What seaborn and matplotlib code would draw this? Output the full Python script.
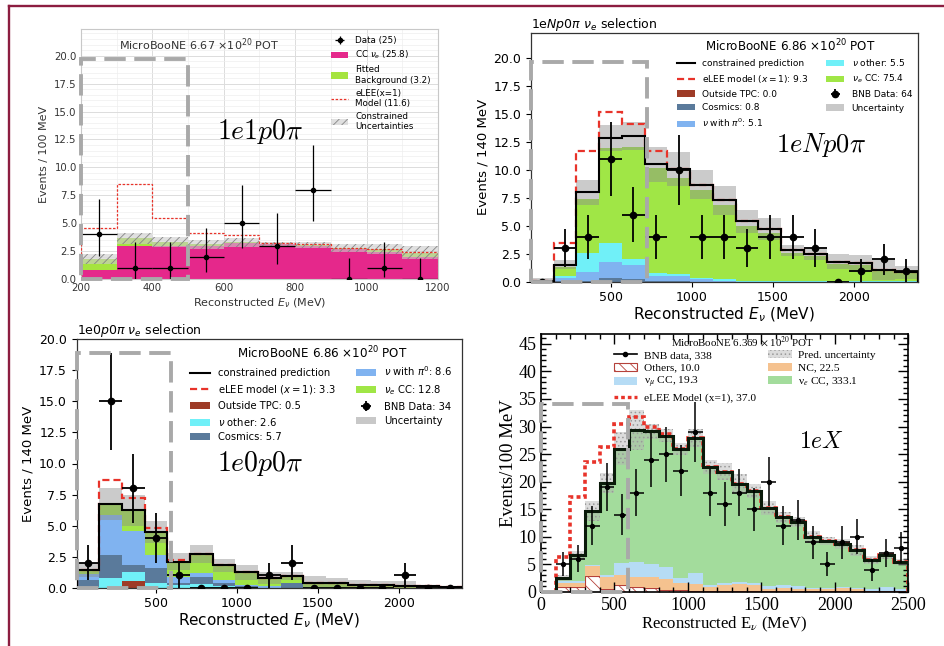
import numpy as np
import pandas as pd
import matplotlib
matplotlib.use("Agg")
import matplotlib.pyplot as plt
import seaborn as sns
from matplotlib.patches import Patch, Rectangle
from matplotlib.lines import Line2D
from matplotlib.ticker import MultipleLocator, AutoMinorLocator, FormatStrFormatter

# ---------------- Panel 1 : 1e1p0pi ----------------
p1_edges = [200, 300, 400, 500, 600, 700, 800, 900, 1000, 1100, 1200]
p1_cc_nue = [0.8, 2.95, 2.95, 2.95, 3.25, 3.1, 2.95, 2.65, 2.45, 2.0]
p1_fitted_bkg = [0.95, 0.7, 0.35, 0.15, 0.05, 0.05, 0.1, 0.1, 0.2, 0.35]
p1_unc = [0.45, 0.5, 0.45, 0.4, 0.4, 0.2, 0.3, 0.35, 0.45, 0.6]
p1_elee = [4.6, 8.5, 5.45, 4.1, 3.9, 3.2, 3.1, 2.8, 2.7, 2.4]
p1_data = [4, 1, 1, 2, 5, 3, 8, 0, 1, 0]
p1_err_lo = [1.95, 1.0, 1.0, 1.37, 2.2, 1.7, 2.8, 0, 0.83, 0]
p1_err_hi = [3.2, 2.3, 2.3, 2.6, 3.4, 2.9, 4.0, 1.87, 2.3, 1.87]
p1_labels = ["Data (25)", r"CC $\nu_e$ (25.8)", "Fitted\nBackground (3.2)",
             "eLEE(x=1)\nModel (11.6)", "Constrained\nUncertainties"]

# ---------------- Panel 2 : 1eNp0pi ----------------
p2_edges = [10, 150, 290, 430, 570, 710, 850, 990, 1130, 1270, 1410, 1550,
            1690, 1830, 1970, 2110, 2250, 2390]
p2_outside = [0, 0, 0, 0, 0, 0, 0, 0, 0, 0, 0, 0, 0, 0, 0, 0, 0]
p2_cosmics = [0, 0.05, 0.1, 0.3, 0.2, 0.05, 0.1, 0, 0, 0, 0, 0, 0, 0, 0, 0, 0]
p2_pi0 = [0, 0.3, 0.8, 1.45, 1.3, 0.45, 0.4, 0.2, 0.1, 0, 0, 0, 0, 0, 0, 0, 0]
p2_other = [0.05, 0.2, 1.7, 1.75, 0.5, 0.3, 0.2, 0.15, 0.15, 0.1, 0.1, 0.1,
            0.05, 0.05, 0.05, 0.05, 0.05]
p2_nue = [0.05, 0.75, 4.8, 8.5, 10.1, 9.4, 8.6, 7.85, 6.65, 4.9, 4.3, 2.5,
          2.25, 1.55, 1.45, 0.9, 0.75]
p2_constrained = [0.1, 1.5, 8.0, 12.85, 13.05, 10.5, 10.1, 8.7, 7.3, 5.4, 4.7,
                  2.8, 2.5, 1.8, 1.65, 1.05, 0.85]
p2_unc = [0.25, 0.4, 1.15, 1.15, 1.25, 1.6, 1.5, 1.3, 1.3, 1.0, 1.0, 0.5, 0.6,
          0.7, 0.75, 0.9, 0.6]
p2_elee = [0.1, 3.5, 11.7, 15.2, 14.1, 11.7, 10.1, 8.7, 7.3, 5.4, 4.7, 2.8,
           2.5, 1.8, 1.65, 1.05, 0.85]
p2_data = [0, 3, 4, 11, 6, 4, 10, 4, 4, 3, 4, 4, 3, 0, 1, 2, 1]
p2_err = [0, 1.7, 2, 3.3, 2.45, 2, 3.15, 2, 2, 1.7, 2, 2, 1.7, 0, 1, 1.4, 1]
p2_labels = ["constrained prediction", r"eLEE model ($x = 1$): 9.3",
             "Outside TPC: 0.0", "Cosmics: 0.8", r"$\nu$ with $\pi^0$: 5.1",
             r"$\nu$ other: 5.5", r"$\nu_e$ CC: 75.4", "BNB Data: 64", "Uncertainty"]

# ---------------- Panel 3 : 1e0p0pi ----------------
p3_edges = p2_edges
p3_outside = [0, 0, 0.5, 0, 0, 0, 0, 0, 0, 0, 0, 0, 0, 0, 0, 0, 0]
p3_other = [0.05, 0.75, 0.8, 0.4, 0.2, 0.3, 0.1, 0.05, 0, 0, 0.05, 0, 0, 0, 0, 0, 0]
p3_cosmics = [0.6, 1.9, 0.5, 1.15, 0.2, 0.6, 0.3, 0.1, 0, 0.4, 0, 0, 0, 0, 0, 0, 0]
p3_pi0 = [0.45, 3.2, 2.8, 1.1, 0.5, 0.3, 0.2, 0.1, 0.1, 0, 0, 0, 0, 0, 0, 0, 0]
p3_nue = [0.3, 0.9, 1.65, 1.85, 1.2, 1.5, 1.2, 1.0, 0.7, 0.55, 0.35, 0.35,
          0.25, 0.2, 0.1, 0.1, 0.05]
p3_constrained = [1.4, 6.75, 6.25, 4.5, 2.1, 2.7, 1.8, 1.25, 0.8, 0.95, 0.4,
                  0.35, 0.25, 0.2, 0.1, 0.1, 0.05]
p3_unc = [0.55, 1.3, 1.25, 0.9, 0.7, 0.7, 0.55, 0.6, 0.5, 0.35, 0.55, 0.45,
          0.35, 0.3, 0.4, 0.1, 0.05]
p3_elee = [1.4, 8.65, 7.25, 4.8, 2.2, 2.7, 1.8, 1.25, 0.8, 0.95, 0.4, 0.35,
           0.25, 0.2, 0.1, 0.1, 0.05]
p3_data = [2, 15, 8, 4, 1, 0, 0, 0, 1, 2, 0, 0, 0, 0, 1, 0, 0]
p3_err = [1.4, 3.9, 2.8, 2, 1, 0, 0, 0, 1, 1.4, 0, 0, 0, 0, 1, 0, 0]
p3_labels = ["constrained prediction", r"eLEE model ($x = 1$): 3.3",
             "Outside TPC: 0.5", r"$\nu$ other: 2.6", "Cosmics: 5.7",
             r"$\nu$ with $\pi^0$: 8.6", r"$\nu_e$ CC: 12.8", "BNB Data: 34", "Uncertainty"]

# ---------------- Panel 4 : 1eX ----------------
p4_edges = [100, 200, 300, 400, 500, 600, 700, 800, 900, 1000, 1100, 1200, 1300,
            1400, 1500, 1600, 1700, 1800, 1900, 2000, 2100, 2200, 2300, 2400, 2500]
p4_others = [0.8, 0.8, 2.8, 0.5, 1.2, 0.8, 0.6, 0.3, 0.3, 0.2, 0.1, 0.1, 0.1,
             0.1, 0.1, 0.1, 0.1, 0.1, 0.1, 0.1, 0.1, 0.1, 0.1, 0.1]
p4_nc = [0.8, 0.8, 1.8, 2.2, 1.9, 1.9, 2.0, 2.0, 1.2, 1.2, 0.7, 1.1, 1.3, 1.2,
         0.4, 0.5, 0.4, 0.3, 0.3, 0.6, 0.3, 0.1, 0.1, 0.1]
p4_numu = [0.3, 0.3, 0.3, 0.3, 2.2, 2.7, 2.4, 2.1, 0.9, 2.0, 0.5, 0.4, 0.4, 0.2,
           0.5, 0.7, 0.5, 0.3, 0.2, 0.2, 0.2, 0.3, 0.7, 0.2]
p4_nue = [0.6, 4.7, 9.8, 16.8, 20.7, 24.0, 24.1, 23.9, 23.5, 24.5, 21.4, 20.2,
          17.7, 16.8, 14.2, 12.2, 11.6, 9.2, 8.6, 7.7, 6.9, 5.3, 5.7, 5.0]
p4_total = [2.5, 6.6, 14.7, 19.8, 26.0, 29.4, 29.1, 28.3, 25.9, 27.9, 22.7, 21.8,
            19.5, 18.3, 15.2, 13.5, 12.6, 9.9, 9.2, 8.6, 7.5, 5.8, 6.6, 5.4]
p4_unc = [0.5, 0.8, 1.8, 1.8, 3.0, 3.6, 1.4, 1.2, 1.1, 1.6, 1.3, 1.5, 1.8, 1.2,
          1.3, 1.0, 0.9, 1.1, 0.8, 0.9, 1.0, 0.7, 0.7, 0.6]
p4_elee = [6.3, 17.2, 23.5, 26.3, 30.5, 31.8, 30.0, 28.6, 26.0, 28.0, 22.7, 21.8,
           19.5, 18.3, 15.2, 13.5, 12.6, 9.9, 9.2, 8.6, 7.5, 5.8, 6.6, 5.4]
p4_data = [5, 6, 12, 19, 14, 18, 24, 25, 22, 29, 18, 16, 18, 15, 20, 12, 13, 9,
           5, 9, 10, 4, 7, 8]
p4_err = [2.2, 2.4, 3.5, 4.4, 3.7, 4.2, 4.9, 5.0, 4.7, 5.4, 4.2, 4.0, 4.2, 3.9,
          4.5, 3.5, 3.6, 3.0, 2.2, 3.0, 3.2, 2.0, 2.6, 2.8]
p4_labels = ["BNB data, 338", "Others, 10.0", r"ν$_\mu$ CC, 19.3",
             "eLEE Model (x=1), 37.0", "Pred. uncertainty", "NC, 22.5", r"ν$_e$ CC, 333.1"]

# ---------------- colours ----------------
PINK, LGREEN = "#e5288b", "#a5e43f"
C_OUT, C_COS, C_PI0, C_OTH, C_NUE = "#9e3b27", "#5a7a9b", "#80b3f0", "#70f0f8", "#a0e646"
C4_NUE, C4_NC, C4_NUMU, C4_OTH = "#a3dc9c", "#f5c28f", "#b6dcf5", "#ffffff"
RED = "#e8332a"
DASH_GREY = "#a9a9a9"
OTH_EDGE = "#b5413a"

W, H = 945, 646
fig = plt.figure(figsize=(9.45, 6.46), dpi=100)
plt.rcParams["hatch.linewidth"] = 0.6


def axbox(l, t, r, b):
    return [l / W, 1 - b / H, (r - l) / W, (b - t) / H]


def stack(ax, edges, comps, names, colors):
    e = np.asarray(edges, float)
    centers = 0.5 * (e[:-1] + e[1:])
    rows = []
    for n, vals in zip(names, comps):
        for c, w in zip(centers, vals):
            rows.append((c, w, n))
    df = pd.DataFrame(rows, columns=["E", "w", "comp"])
    sns.histplot(data=df, x="E", weights="w", hue="comp", hue_order=names[::-1],
                 palette=dict(zip(names, colors)), bins=list(map(float, edges)),
                 multiple="stack", element="step", fill=True, alpha=1, linewidth=0,
                 legend=False, ax=ax)


def band(ax, edges, center, err, **kw):
    lo = np.asarray(center, float) - np.asarray(err, float)
    hi = np.asarray(center, float) + np.asarray(err, float)
    return ax.fill_between(edges, np.r_[lo, lo[-1]], np.r_[hi, hi[-1]], step="post", **kw)


def centers_of(edges):
    e = np.asarray(edges, float)
    return 0.5 * (e[:-1] + e[1:]), np.diff(e) / 2


def dashed_box(ax, x0, x1, top):
    ax.add_patch(Rectangle((x0, 0), x1 - x0, top, fill=False, ec=DASH_GREY, lw=2.8,
                           ls=(0, (5.5, 2.2)), clip_on=False, zorder=8))


# ======================= Panel 1 =======================
ax1 = fig.add_axes(axbox(81, 29, 438, 279))
stack(ax1, p1_edges, [p1_cc_nue, p1_fitted_bkg], ["ccnue", "fitted"], [PINK, LGREEN])
tot1 = np.add(p1_cc_nue, p1_fitted_bkg)
band(ax1, p1_edges, tot1, p1_unc, facecolor=(0.8, 0.8, 0.8, 0.6), edgecolor="#858585",
     hatch="////", lw=0, zorder=2)
ax1.stairs(p1_elee, p1_edges, color=RED, lw=0.9, ls=(0, (2, 1.3)), zorder=3)
c1, hw1 = centers_of(p1_edges)
eb1 = ax1.errorbar(c1, p1_data, xerr=hw1, yerr=[p1_err_lo, p1_err_hi], fmt="o", color="k",
                   ms=3, elinewidth=0.9, capsize=0, zorder=5)
ax1.set_xlim(200, 1200)
ax1.set_ylim(0, 22.4)
ax1.xaxis.set_major_locator(MultipleLocator(200))
ax1.yaxis.set_major_locator(MultipleLocator(2.5))
ax1.yaxis.set_major_formatter(FormatStrFormatter("%.1f"))
ax1.xaxis.set_minor_locator(AutoMinorLocator(2))
ax1.yaxis.set_minor_locator(AutoMinorLocator(5))
ax1.set_axisbelow(True)
ax1.grid(which="major", color="#dcdcdc", lw=0.7)
ax1.grid(which="minor", color="#eeeeee", lw=0.5)
ax1.tick_params(which="both", length=0, labelsize=7.3, labelcolor="#333333", pad=3)
for s in ax1.spines.values():
    s.set_color("#c8c8c8")
    s.set_linewidth(0.8)
ax1.set_xlabel(r"Reconstructed $E_\nu$ (MeV)", fontsize=8, color="#333333", labelpad=2)
ax1.set_ylabel("Events / 100 MeV", fontsize=8, color="#333333", labelpad=4)
ax1.text(0.33, 0.936, r"MicroBooNE 6.67 $\times10^{20}$ POT", transform=ax1.transAxes,
         ha="center", va="center", fontsize=8, color="#333333")
h1 = [eb1, Patch(fc=PINK), Patch(fc=LGREEN),
      Line2D([], [], color=RED, lw=0.9, ls=(0, (2, 1.3))),
      Patch(facecolor=(0.8, 0.8, 0.8, 0.6), edgecolor="#858585", hatch="////", lw=0)]
ax1.legend(h1, p1_labels, loc="upper right", fontsize=6.3, frameon=False,
           labelspacing=0.45, handletextpad=0.8, borderaxespad=0.4)
dashed_box(ax1, 200, 500, 19.7)

# ======================= Panels 2 & 3 =======================


def mb_panel(ax, edges, comps, names, colors, constrained, unc, elee, data, err,
             leg_entries_order, title, sel_title, ymax, title_xy):
    stack(ax, edges, comps, names, colors)
    band(ax, edges, constrained, unc, facecolor="#8c8c8c", alpha=0.45, lw=0, zorder=2)
    ax.stairs(elee, edges, color=RED, lw=1.6, ls=(0, (3.2, 1.8)), zorder=3)
    ax.stairs(constrained, edges, color="k", lw=1.5, zorder=4)
    c, hw = centers_of(edges)
    eb = ax.errorbar(c, data, xerr=hw, yerr=err, fmt="o", color="k", ms=4.5,
                     elinewidth=1.3, capsize=0, zorder=6)
    ax.set_xlim(edges[0], edges[-1])
    ax.set_ylim(0, ymax)
    ax.set_xticks([500, 1000, 1500, 2000])
    ax.yaxis.set_major_locator(MultipleLocator(2.5))
    ax.yaxis.set_major_formatter(FormatStrFormatter("%.1f"))
    ax.tick_params(labelsize=9, length=3.5, width=0.8)
    for s in ax.spines.values():
        s.set_linewidth(0.9)
        s.set_color("#333333")
    ax.set_xlabel(r"Reconstructed $E_\nu$ (MeV)", fontsize=11, labelpad=1)
    ax.set_ylabel("Events / 140 MeV", fontsize=9.5, labelpad=3)
    ax.set_title(sel_title, loc="left", fontsize=9, pad=3)
    ax.text(title_xy[0], title_xy[1], title, transform=ax.transAxes, ha="center",
            va="center", fontsize=8.6)
    handle_map = {
        "constrained": Line2D([], [], color="k", lw=1.5),
        "elee": Line2D([], [], color=RED, lw=1.6, ls=(0, (3.2, 1.8))),
        "data": eb,
        "unc": Patch(fc="#c8c8c8"),
    }
    for n, col in zip(names, colors):
        handle_map[n] = Patch(fc=col)
    return [handle_map[k] for k in leg_entries_order]


ax2 = fig.add_axes(axbox(531, 32.7, 917.7, 281.7))
names2 = ["outside", "cosmics", "pi0", "other", "nue"]
h2 = mb_panel(ax2, p2_edges, [p2_outside, p2_cosmics, p2_pi0, p2_other, p2_nue], names2,
              [C_OUT, C_COS, C_PI0, C_OTH, C_NUE], p2_constrained, p2_unc, p2_elee,
              p2_data, p2_err,
              ["constrained", "elee", "outside", "cosmics", "pi0", "other", "nue", "data", "unc"],
              r"MicroBooNE 6.86 $\times10^{20}$ POT", r"1e$Np$0$\pi$ $\nu_e$ selection",
              22.3, (0.671, 0.947))
ax2.legend(h2, p2_labels, ncol=2, loc="upper right", bbox_to_anchor=(0.995, 0.915),
           fontsize=6.5, frameon=False, borderaxespad=0, labelspacing=0.5,
           columnspacing=2.0, handletextpad=0.8)
dashed_box(ax2, 10, 725, 19.65)

ax3 = fig.add_axes(axbox(76.7, 339.3, 461.7, 587.7))
names3 = ["outside", "other", "cosmics", "pi0", "nue"]
h3 = mb_panel(ax3, p3_edges, [p3_outside, p3_other, p3_cosmics, p3_pi0, p3_nue], names3,
              [C_OUT, C_OTH, C_COS, C_PI0, C_NUE], p3_constrained, p3_unc, p3_elee,
              p3_data, p3_err,
              ["constrained", "elee", "outside", "other", "cosmics", "pi0", "nue", "data", "unc"],
              r"MicroBooNE 6.86 $\times10^{20}$ POT", r"1e0$p$0$\pi$ $\nu_e$ selection",
              20.0, (0.637, 0.944))
ax3.legend(h3, p3_labels, ncol=2, loc="upper right", bbox_to_anchor=(0.985, 0.915),
           fontsize=7.2, frameon=False, borderaxespad=0, labelspacing=0.48,
           columnspacing=2.0, handletextpad=0.8)
dashed_box(ax3, 10, 590, 18.9)

# ======================= Panel 4 =======================
SERIF = "Liberation Serif"
ax4 = fig.add_axes(axbox(541, 334, 908.3, 591.7))
names4 = ["others", "nc", "numu", "nue"]
stack(ax4, p4_edges, [p4_others, p4_nc, p4_numu, p4_nue], names4,
      [C4_OTH, C4_NC, C4_NUMU, C4_NUE])
for coll in ax4.collections:
    fc = coll.get_facecolor()
    if len(fc) and np.allclose(fc[0][:3], (1, 1, 1)):
        coll.set_edgecolor(OTH_EDGE)
        coll.set_linewidth(0.8)
        coll.set_hatch("\\\\\\")
band(ax4, p4_edges, p4_total, p4_unc, facecolor=(0.7, 0.7, 0.7, 0.45), edgecolor="#9a9a9a",
     hatch="....", lw=0, zorder=2)
ax4.stairs(p4_elee, p4_edges, color=RED, lw=2.6, ls=(0, (1.1, 0.9)), zorder=3)
ax4.stairs(p4_total, p4_edges, color="#0a1a0a", lw=2.2, zorder=4)
c4, hw4 = centers_of(p4_edges)
ax4.errorbar(c4, p4_data, xerr=hw4, yerr=p4_err, fmt="o", color="k", ms=2.8,
             elinewidth=1.1, capsize=0, zorder=6)
ax4.set_xlim(0, 2500)
ax4.set_ylim(0, 46.8)
ax4.xaxis.set_major_locator(MultipleLocator(500))
ax4.xaxis.set_minor_locator(MultipleLocator(100))
ax4.yaxis.set_major_locator(MultipleLocator(5))
ax4.yaxis.set_minor_locator(MultipleLocator(1))
ax4.tick_params(which="both", direction="in", top=True, right=True, labelsize=13,
                labelfontfamily=SERIF, width=1.0)
ax4.tick_params(which="major", length=7)
ax4.tick_params(which="minor", length=3.5)
for s in ax4.spines.values():
    s.set_linewidth(1.2)
    s.set_color("k")
ax4.set_xlabel(r"Reconstructed E$_\nu$ (MeV)", fontsize=12, family=SERIF,
               math_fontfamily="stix", labelpad=1)
ax4.set_ylabel("Events/100 MeV", fontsize=13.5, family=SERIF, labelpad=1)
ax4.text(0.549, 0.970, r"MicroBooNE 6.369 $\times$ 10$^{20}$ POT", transform=ax4.transAxes,
         ha="center", va="center", fontsize=7.8, family=SERIF, math_fontfamily="stix")
h4 = [Line2D([], [], color="k", marker="o", ms=3, lw=1.2),
      Patch(facecolor="white", edgecolor=OTH_EDGE, hatch="\\\\\\", lw=0.8),
      Patch(fc=C4_NUMU),
      Line2D([], [], color=RED, lw=2.4, ls=(0, (1.1, 0.9))),
      Patch(facecolor=(0.7, 0.7, 0.7, 0.45), edgecolor="#9a9a9a", hatch="....", lw=0),
      Patch(fc=C4_NC),
      Patch(fc=C4_NUE)]
ax4.legend(h4, p4_labels, ncol=2, loc="upper left", bbox_to_anchor=(0.185, 0.955),
           prop=dict(family=SERIF, size=8.2, math_fontfamily="stix"), frameon=False,
           borderaxespad=0, labelspacing=0.22, columnspacing=1.0, handletextpad=0.6,
           handlelength=2.1)
dashed_box(ax4, 0, 590, 34)

# ---------------- big channel labels ----------------
for (x, y, s, fs) in [(260, 132, r"$1e1p0\pi$", 20), (821, 145, r"$1eNp0\pi$", 19),
                      (260, 463, r"$1e0p0\pi$", 20), (821, 441, r"$1eX$", 17)]:
    fig.text(x / W, 1 - y / H, s, ha="center", va="center", fontsize=fs,
             math_fontfamily="cm")

# ---------------- slide frame ----------------
FRAME = "#8c1d40"
fig.add_artist(Line2D([9.5 / W, 9.5 / W], [0, 1 - 6 / H], transform=fig.transFigure,
                      color=FRAME, lw=1.7))
fig.add_artist(Line2D([9.5 / W, 1], [1 - 6 / H, 1 - 6 / H], transform=fig.transFigure,
                      color=FRAME, lw=1.7))

fig.savefig("out.png", dpi=100)
